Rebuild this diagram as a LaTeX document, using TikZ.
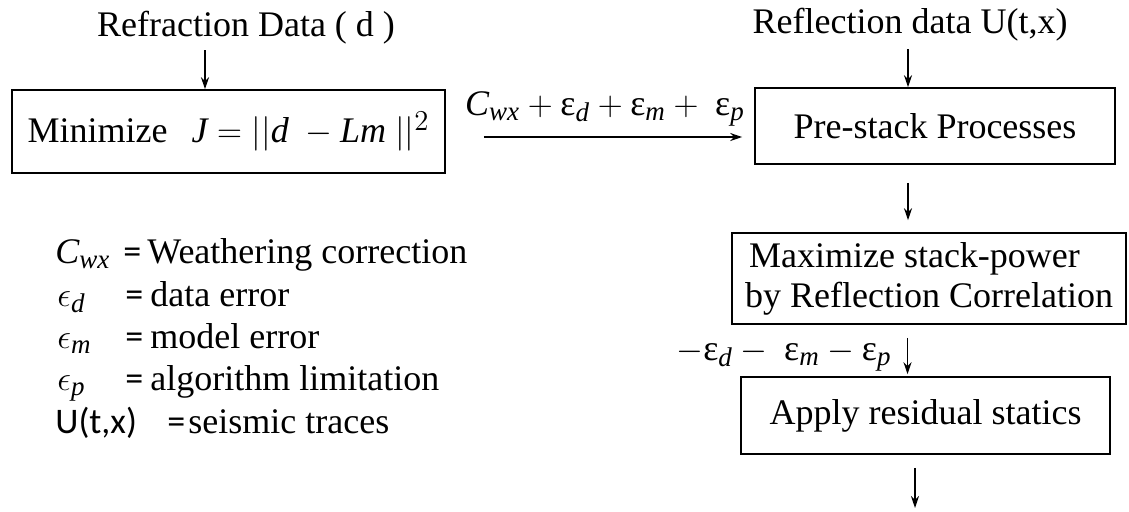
\documentclass[tikz,border=0pt]{standalone}
\usepackage{amsmath}
\usepackage{fontspec}
\setmainfont{Liberation Serif}
\newfontfamily\calfont{Carlito}
\usepackage{tikz}
\usetikzlibrary{arrows.meta,positioning}
\newcommand{\eps}{\text{ε}}
\newcommand{\vi}[1]{\textit{#1}}
\DeclareMathSizes{18}{18}{13.5}{10}

\begin{document}
\begin{tikzpicture}[
    x=0.5pt,y=-0.5pt,
    font=\fontsize{18}{20}\selectfont,
    box/.style={draw,line width=0.8pt,inner sep=0pt,align=center},
    txt/.style={inner sep=0pt,anchor=base},
    leg/.style={inner sep=0pt,anchor=base west},
    arrow/.style={-{Stealth[length=6pt,width=4pt]},line width=0.8pt}
  ]
    \useasboundingbox (0,0) rectangle (1129,511);

    % Inputs
    \node[txt] (refr) at (246,36) {Refraction Data ( d )};
    \node[txt] (refl) at (910,33) {Reflection data U(t,x)};

    % Boxes
    \node[box,minimum width=216.5pt,minimum height=41.5pt] (minbox) at (228.5,131.5)
      {Minimize\ \ \,$\vi{J} = ||\vi{d}\ - \vi{Lm}\ ||^{2}$};
    \node[box,minimum width=180pt,minimum height=38pt] (prebox) at (935,126)
      {Pre-stack Processes};
    \node[box,align=left,minimum width=197pt,minimum height=45.5pt] (maxbox) at (929,278.5)
      {\hspace{2pt}Maximize stack-power\\by Reflection Correlation};
    \node[box,minimum width=184.5pt,minimum height=38.5pt] (resbox) at (925.5,415.5)
      {Apply residual statics};

    % Labels
    \node[txt] (corr) at (605,115) {$\vi{C}_{\vi{wx}} + \eps_{\vi{d}} + \eps_{\vi{m}} +\ \eps_{\vi{p}}$};
    \node[txt] (err) at (784,360) {$-\eps_{\vi{d}} -\ \eps_{\vi{m}} - \eps_{\vi{p}}$};

    % Legend
    \node[leg] (cwx) at (55,263) {$\vi{C}_{\vi{wx}}$};
    \node[leg] (cwxeq) at (123,263) {\calfont =};
    \node[leg] (cwxtxt) at (147,263) {Weathering correction};
    \node[leg] (ed) at (57,306) {$\epsilon_{\vi{d}}$};
    \node[leg] (edeq) at (125,306) {\calfont =};
    \node[leg] (edtxt) at (150,306) {data error};
    \node[leg] (em) at (57,348) {$\epsilon_{\vi{m}}$};
    \node[leg] (emeq) at (125,348) {\calfont =};
    \node[leg] (emtxt) at (150,348) {model error};
    \node[leg] (ep) at (57,390) {$\epsilon_{\vi{p}}$};
    \node[leg] (epeq) at (125,390) {\calfont =};
    \node[leg] (eptxt) at (150,390) {algorithm limitation};
    \node[leg] (utx) at (55,433) {\calfont U(t,x)};
    \node[leg] (utxeq) at (167,433) {\calfont =};
    \node[leg] (utxtxt) at (188,433) {seismic traces};

    % Arrows
    \coordinate (tipA) at ([xshift=-11.75pt]minbox.north);
    \coordinate (tipB) at ([xshift=-13.5pt]prebox.north);
    \coordinate (hstart) at ([shift={(19pt,-2.75pt)}]minbox.east);
    \coordinate (exit) at (915,508);
    \draw[arrow] ([yshift=-3pt]refr.south -| tipA) -- (tipA);
    \draw[arrow] ([yshift=-4pt]refl.south -| tipB) -- (tipB);
    \draw[arrow,shorten >=6pt] (hstart) -- (hstart -| prebox.west);
    \draw[arrow,shorten <=9pt,shorten >=6pt] ([xshift=-13.5pt]prebox.south) -- ([xshift=-13.5pt]prebox.south |- maxbox.north);
    \draw[arrow,shorten <=6.5pt,shorten >=1pt] ([xshift=-9pt]resbox.north |- maxbox.south) -- ([xshift=-9pt]resbox.north);
    \draw[arrow,shorten <=6.5pt] (exit |- resbox.south) -- (exit);
  \end{tikzpicture}
\end{document}
